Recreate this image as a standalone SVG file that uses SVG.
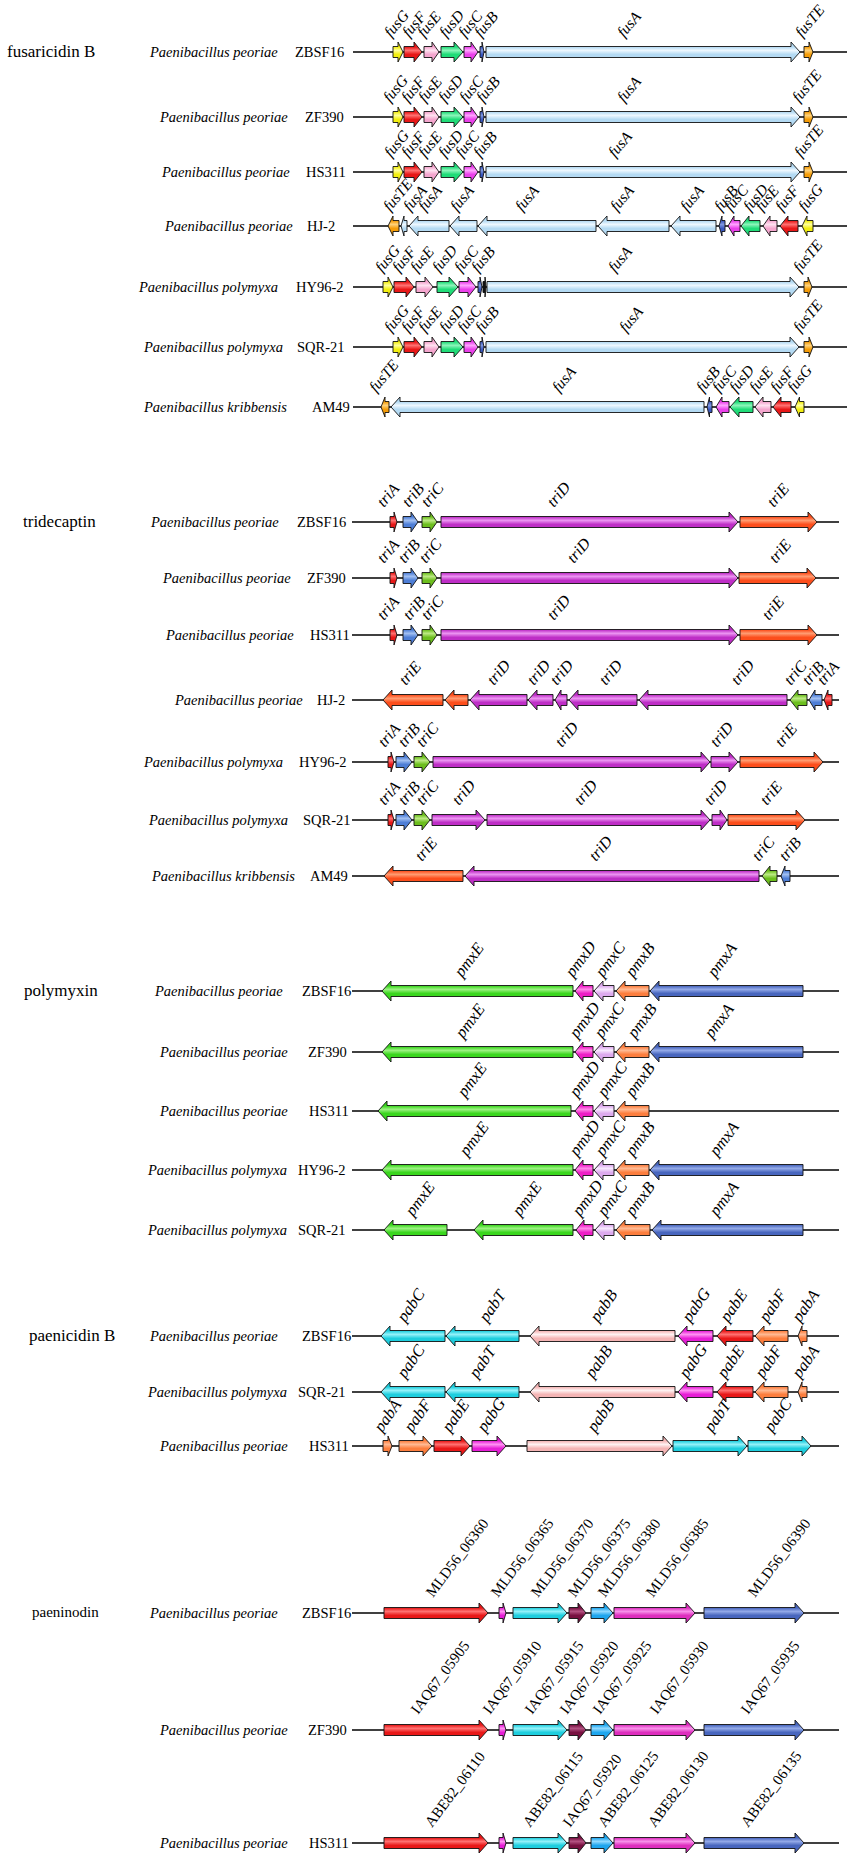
<svg xmlns="http://www.w3.org/2000/svg" width="851" height="1870" viewBox="0 0 851 1870">
<style>
text{font-family:"Liberation Serif","Times New Roman",serif;fill:#000}
.sec{font-size:17px}
.sec2{font-size:15px}
.sp{font-size:14.5px;font-style:italic}
.st{font-size:14.5px}
.lf{font-size:15.5px;font-style:italic}
.lt{font-size:16px;font-style:italic}
.lp{font-size:16.5px;font-style:italic}
.lm{font-size:15px}
.bb line{stroke:#000;stroke-width:1.4}
polygon{stroke:#111;stroke-width:0.9;stroke-linejoin:miter}
</style>
<defs>
<linearGradient id="yel" x2="0" y2="1"><stop offset=".25" stop-color="#F2EE10"/><stop offset=".42" stop-color="#FFFF9A"/><stop offset=".62" stop-color="#F2EE10"/></linearGradient>
<linearGradient id="red" x2="0" y2="1"><stop offset=".25" stop-color="#E81818"/><stop offset=".42" stop-color="#FF7272"/><stop offset=".62" stop-color="#E81818"/></linearGradient>
<linearGradient id="pnk" x2="0" y2="1"><stop offset=".25" stop-color="#F4A6CE"/><stop offset=".42" stop-color="#FFE2F1"/><stop offset=".62" stop-color="#F4A6CE"/></linearGradient>
<linearGradient id="grn" x2="0" y2="1"><stop offset=".25" stop-color="#20DC78"/><stop offset=".42" stop-color="#8CF5BA"/><stop offset=".62" stop-color="#20DC78"/></linearGradient>
<linearGradient id="mag" x2="0" y2="1"><stop offset=".25" stop-color="#EA40EA"/><stop offset=".42" stop-color="#FFA4FF"/><stop offset=".62" stop-color="#EA40EA"/></linearGradient>
<linearGradient id="blu" x2="0" y2="1"><stop offset=".25" stop-color="#3A58C0"/><stop offset=".42" stop-color="#8098E0"/><stop offset=".62" stop-color="#3A58C0"/></linearGradient>
<linearGradient id="lbl" x2="0" y2="1"><stop offset=".25" stop-color="#B4DAF3"/><stop offset=".42" stop-color="#EEF8FF"/><stop offset=".62" stop-color="#B4DAF3"/></linearGradient>
<linearGradient id="orn" x2="0" y2="1"><stop offset=".25" stop-color="#F49C08"/><stop offset=".42" stop-color="#FFD27A"/><stop offset=".62" stop-color="#F49C08"/></linearGradient>
<linearGradient id="tB" x2="0" y2="1"><stop offset=".25" stop-color="#4E7ED6"/><stop offset=".42" stop-color="#A2C0F2"/><stop offset=".62" stop-color="#4E7ED6"/></linearGradient>
<linearGradient id="tC" x2="0" y2="1"><stop offset=".25" stop-color="#6CBE1E"/><stop offset=".42" stop-color="#BCEA84"/><stop offset=".62" stop-color="#6CBE1E"/></linearGradient>
<linearGradient id="tD" x2="0" y2="1"><stop offset=".25" stop-color="#BE2EC6"/><stop offset=".42" stop-color="#EC94F2"/><stop offset=".62" stop-color="#BE2EC6"/></linearGradient>
<linearGradient id="tE" x2="0" y2="1"><stop offset=".25" stop-color="#FC4E1C"/><stop offset=".42" stop-color="#FF9C72"/><stop offset=".62" stop-color="#FC4E1C"/></linearGradient>
<linearGradient id="pE" x2="0" y2="1"><stop offset=".25" stop-color="#3AD61E"/><stop offset=".42" stop-color="#9CF282"/><stop offset=".62" stop-color="#3AD61E"/></linearGradient>
<linearGradient id="pD" x2="0" y2="1"><stop offset=".25" stop-color="#EE1EC6"/><stop offset=".42" stop-color="#FF8AE8"/><stop offset=".62" stop-color="#EE1EC6"/></linearGradient>
<linearGradient id="pC" x2="0" y2="1"><stop offset=".25" stop-color="#DDAAEE"/><stop offset=".42" stop-color="#F8EAFF"/><stop offset=".62" stop-color="#DDAAEE"/></linearGradient>
<linearGradient id="pB" x2="0" y2="1"><stop offset=".25" stop-color="#FC7E3E"/><stop offset=".42" stop-color="#FFBA94"/><stop offset=".62" stop-color="#FC7E3E"/></linearGradient>
<linearGradient id="pA" x2="0" y2="1"><stop offset=".25" stop-color="#4866BE"/><stop offset=".42" stop-color="#94AAE8"/><stop offset=".62" stop-color="#4866BE"/></linearGradient>
<linearGradient id="cy" x2="0" y2="1"><stop offset=".25" stop-color="#1ECEDE"/><stop offset=".42" stop-color="#94F2FA"/><stop offset=".62" stop-color="#1ECEDE"/></linearGradient>
<linearGradient id="pk2" x2="0" y2="1"><stop offset=".25" stop-color="#F4B4B4"/><stop offset=".42" stop-color="#FFF2F2"/><stop offset=".62" stop-color="#F4B4B4"/></linearGradient>
<linearGradient id="mg2" x2="0" y2="1"><stop offset=".25" stop-color="#E61ED6"/><stop offset=".42" stop-color="#FF92F2"/><stop offset=".62" stop-color="#E61ED6"/></linearGradient>
<linearGradient id="ma" x2="0" y2="1"><stop offset=".25" stop-color="#781040"/><stop offset=".42" stop-color="#B45282"/><stop offset=".62" stop-color="#781040"/></linearGradient>
<linearGradient id="sky" x2="0" y2="1"><stop offset=".25" stop-color="#1EA6EE"/><stop offset=".42" stop-color="#92DAFF"/><stop offset=".62" stop-color="#1EA6EE"/></linearGradient>
<linearGradient id="pk3" x2="0" y2="1"><stop offset=".25" stop-color="#DE2EBE"/><stop offset=".42" stop-color="#F892EA"/><stop offset=".62" stop-color="#DE2EBE"/></linearGradient>
</defs>
<rect width="851" height="1870" fill="#fff"/>

<g id="section-titles">
<text class="sec" x="7" y="57">fusaricidin B</text>
<text class="sec" x="23" y="527">tridecaptin</text>
<text class="sec" x="24" y="996">polymyxin</text>
<text class="sec" x="29" y="1341">paenicidin B</text>
<text class="sec2" x="32" y="1617">paeninodin</text>
</g>

<g id="connectors" class="bb">
<line x1="353" y1="52" x2="847" y2="52"/>
<line x1="353" y1="117" x2="847" y2="117"/>
<line x1="353" y1="172" x2="847" y2="172"/>
<line x1="353" y1="226" x2="847" y2="226"/>
<line x1="353" y1="287" x2="847" y2="287"/>
<line x1="353" y1="347" x2="847" y2="347"/>
<line x1="353" y1="407" x2="847" y2="407"/>
<line x1="352" y1="522" x2="839" y2="522"/>
<line x1="352" y1="578" x2="839" y2="578"/>
<line x1="352" y1="635" x2="839" y2="635"/>
<line x1="352" y1="700" x2="839" y2="700"/>
<line x1="352" y1="762" x2="839" y2="762"/>
<line x1="352" y1="820" x2="839" y2="820"/>
<line x1="352" y1="876" x2="839" y2="876"/>
<line x1="352" y1="991" x2="839" y2="991"/>
<line x1="352" y1="1052" x2="839" y2="1052"/>
<line x1="352" y1="1111" x2="839" y2="1111"/>
<line x1="352" y1="1170" x2="839" y2="1170"/>
<line x1="352" y1="1230" x2="839" y2="1230"/>
<line x1="352" y1="1336" x2="839" y2="1336"/>
<line x1="352" y1="1392" x2="839" y2="1392"/>
<line x1="352" y1="1446" x2="839" y2="1446"/>
<line x1="352" y1="1613" x2="839" y2="1613"/>
<line x1="352" y1="1730" x2="839" y2="1730"/>
<line x1="352" y1="1843" x2="839" y2="1843"/>
</g>

<!-- fusaricidin B -->
<g id="fus-ZBSF16" transform="translate(0,52)">
<text class="sp" x="150" y="5">Paenibacillus peoriae</text><text class="st" x="295" y="5">ZBSF16</text>
<polygon fill="url(#yel)" points="393,-5.5 398,-5.5 398,-10 403,0 398,10 398,5.5 393,5.5"/>
<polygon fill="url(#red)" points="404,-5.5 414,-5.5 414,-10 422,0 414,10 414,5.5 404,5.5"/>
<polygon fill="url(#pnk)" points="424,-5.5 432,-5.5 432,-10 439,0 432,10 432,5.5 424,5.5"/>
<polygon fill="url(#grn)" points="441,-5.5 454,-5.5 454,-10 463,0 454,10 454,5.5 441,5.5"/>
<polygon fill="url(#mag)" points="464,-5.5 471,-5.5 471,-10 478,0 471,10 471,5.5 464,5.5"/>
<polygon fill="url(#blu)" points="480,-5.5 482,-5.5 482,-10 484,0 482,10 482,5.5 480,5.5"/>
<polygon fill="url(#lbl)" points="486,-5.5 791,-5.5 791,-10 800,0 791,10 791,5.5 486,5.5"/>
<polygon fill="url(#orn)" points="804,-5.5 809,-5.5 809,-10 813,0 809,10 809,5.5 804,5.5"/>
<text class="lf" transform="translate(391,-14) rotate(-50)">fusG</text>
<text class="lf" transform="translate(409,-14) rotate(-50)">fusF</text>
<text class="lf" transform="translate(424,-14) rotate(-50)">fusE</text>
<text class="lf" transform="translate(446,-14) rotate(-50)">fusD</text>
<text class="lf" transform="translate(465,-14) rotate(-50)">fusC</text>
<text class="lf" transform="translate(481,-14) rotate(-50)">fusB</text>
<text class="lf" transform="translate(624,-14) rotate(-50)">fusA</text>
<text class="lf" transform="translate(802,-14) rotate(-50)">fusTE</text>
</g>

<g id="fus-ZF390" transform="translate(0,117)">
<text class="sp" x="160" y="5">Paenibacillus peoriae</text><text class="st" x="305" y="5">ZF390</text>
<polygon fill="url(#yel)" points="393,-5.5 398,-5.5 398,-10 403,0 398,10 398,5.5 393,5.5"/>
<polygon fill="url(#red)" points="404,-5.5 414,-5.5 414,-10 422,0 414,10 414,5.5 404,5.5"/>
<polygon fill="url(#pnk)" points="424,-5.5 432,-5.5 432,-10 439,0 432,10 432,5.5 424,5.5"/>
<polygon fill="url(#grn)" points="441,-5.5 454,-5.5 454,-10 463,0 454,10 454,5.5 441,5.5"/>
<polygon fill="url(#mag)" points="464,-5.5 471,-5.5 471,-10 478,0 471,10 471,5.5 464,5.5"/>
<polygon fill="url(#blu)" points="480,-5.5 482,-5.5 482,-10 484,0 482,10 482,5.5 480,5.5"/>
<polygon fill="url(#lbl)" points="486,-5.5 791,-5.5 791,-10 800,0 791,10 791,5.5 486,5.5"/>
<polygon fill="url(#orn)" points="804,-5.5 809,-5.5 809,-10 813,0 809,10 809,5.5 804,5.5"/>
<text class="lf" transform="translate(390,-14) rotate(-50)">fusG</text>
<text class="lf" transform="translate(408,-14) rotate(-50)">fusF</text>
<text class="lf" transform="translate(425,-14) rotate(-50)">fusE</text>
<text class="lf" transform="translate(445,-14) rotate(-50)">fusD</text>
<text class="lf" transform="translate(466,-14) rotate(-50)">fusC</text>
<text class="lf" transform="translate(483,-14) rotate(-50)">fusB</text>
<text class="lf" transform="translate(624,-14) rotate(-50)">fusA</text>
<text class="lf" transform="translate(799,-14) rotate(-50)">fusTE</text>
</g>

<g id="fus-HS311" transform="translate(0,172)">
<text class="sp" x="162" y="5">Paenibacillus peoriae</text><text class="st" x="306" y="5">HS311</text>
<polygon fill="url(#yel)" points="393,-5.5 398,-5.5 398,-10 403,0 398,10 398,5.5 393,5.5"/>
<polygon fill="url(#red)" points="404,-5.5 414,-5.5 414,-10 422,0 414,10 414,5.5 404,5.5"/>
<polygon fill="url(#pnk)" points="424,-5.5 432,-5.5 432,-10 439,0 432,10 432,5.5 424,5.5"/>
<polygon fill="url(#grn)" points="441,-5.5 454,-5.5 454,-10 463,0 454,10 454,5.5 441,5.5"/>
<polygon fill="url(#mag)" points="464,-5.5 471,-5.5 471,-10 478,0 471,10 471,5.5 464,5.5"/>
<polygon fill="url(#blu)" points="480,-5.5 482,-5.5 482,-10 484,0 482,10 482,5.5 480,5.5"/>
<polygon fill="url(#lbl)" points="486,-5.5 791,-5.5 791,-10 800,0 791,10 791,5.5 486,5.5"/>
<polygon fill="url(#orn)" points="804,-5.5 809,-5.5 809,-10 813,0 809,10 809,5.5 804,5.5"/>
<text class="lf" transform="translate(391,-14) rotate(-50)">fusG</text>
<text class="lf" transform="translate(408,-14) rotate(-50)">fusF</text>
<text class="lf" transform="translate(425,-14) rotate(-50)">fusE</text>
<text class="lf" transform="translate(445,-14) rotate(-50)">fusD</text>
<text class="lf" transform="translate(462,-14) rotate(-50)">fusC</text>
<text class="lf" transform="translate(480,-14) rotate(-50)">fusB</text>
<text class="lf" transform="translate(615,-14) rotate(-50)">fusA</text>
<text class="lf" transform="translate(801,-14) rotate(-50)">fusTE</text>
</g>

<g id="fus-HJ-2" transform="translate(0,226)">
<text class="sp" x="165" y="5">Paenibacillus peoriae</text><text class="st" x="307" y="5">HJ-2</text>
<polygon fill="url(#orn)" points="399,-5.5 393,-5.5 393,-10 388,0 393,10 393,5.5 399,5.5"/>
<polygon fill="url(#lbl)" points="407,-5.5 404,-5.5 404,-10 401,0 404,10 404,5.5 407,5.5"/>
<polygon fill="url(#lbl)" points="449,-5.5 418,-5.5 418,-10 409,0 418,10 418,5.5 449,5.5"/>
<polygon fill="url(#lbl)" points="477,-5.5 459,-5.5 459,-10 450,0 459,10 459,5.5 477,5.5"/>
<polygon fill="url(#lbl)" points="596,-5.5 487,-5.5 487,-10 478,0 487,10 487,5.5 596,5.5"/>
<polygon fill="url(#lbl)" points="669,-5.5 607,-5.5 607,-10 598,0 607,10 607,5.5 669,5.5"/>
<polygon fill="url(#lbl)" points="716,-5.5 680,-5.5 680,-10 671,0 680,10 680,5.5 716,5.5"/>
<polygon fill="url(#blu)" points="725,-5.5 722,-5.5 722,-10 719,0 722,10 722,5.5 725,5.5"/>
<polygon fill="url(#mag)" points="740,-5.5 734,-5.5 734,-10 728,0 734,10 734,5.5 740,5.5"/>
<polygon fill="url(#grn)" points="760,-5.5 749,-5.5 749,-10 741,0 749,10 749,5.5 760,5.5"/>
<polygon fill="url(#pnk)" points="777,-5.5 770,-5.5 770,-10 763,0 770,10 770,5.5 777,5.5"/>
<polygon fill="url(#red)" points="798,-5.5 788,-5.5 788,-10 780,0 788,10 788,5.5 798,5.5"/>
<polygon fill="url(#yel)" points="813,-5.5 807,-5.5 807,-10 802,0 807,10 807,5.5 813,5.5"/>
<text class="lf" transform="translate(390,-14) rotate(-50)">fusTE</text>
<text class="lf" transform="translate(410,-14) rotate(-50)">fusA</text>
<text class="lf" transform="translate(425,-14) rotate(-50)">fusA</text>
<text class="lf" transform="translate(457,-14) rotate(-50)">fusA</text>
<text class="lf" transform="translate(522,-14) rotate(-50)">fusA</text>
<text class="lf" transform="translate(617,-14) rotate(-50)">fusA</text>
<text class="lf" transform="translate(687,-14) rotate(-50)">fusA</text>
<text class="lf" transform="translate(721,-14) rotate(-50)">fusB</text>
<text class="lf" transform="translate(731,-14) rotate(-50)">fusC</text>
<text class="lf" transform="translate(750,-14) rotate(-50)">fusD</text>
<text class="lf" transform="translate(762,-14) rotate(-50)">fusE</text>
<text class="lf" transform="translate(782,-14) rotate(-50)">fusF</text>
<text class="lf" transform="translate(805,-14) rotate(-50)">fusG</text>
</g>

<g id="fus-HY96-2" transform="translate(0,287)">
<text class="sp" x="139" y="5">Paenibacillus polymyxa</text><text class="st" x="296" y="5">HY96-2</text>
<polygon fill="url(#yel)" points="383,-5.5 388,-5.5 388,-10 393,0 388,10 388,5.5 383,5.5"/>
<polygon fill="url(#red)" points="394,-5.5 406,-5.5 406,-10 414,0 406,10 406,5.5 394,5.5"/>
<polygon fill="url(#pnk)" points="416,-5.5 425,-5.5 425,-10 433,0 425,10 425,5.5 416,5.5"/>
<polygon fill="url(#grn)" points="437,-5.5 449,-5.5 449,-10 458,0 449,10 449,5.5 437,5.5"/>
<polygon fill="url(#mag)" points="459,-5.5 468,-5.5 468,-10 476,0 468,10 468,5.5 459,5.5"/>
<polygon fill="url(#blu)" points="478,-5.5 480,-5.5 480,-10 482,0 480,10 480,5.5 478,5.5"/>
<polygon fill="#111" points="483,-5.5 485,-5.5 485,-10 486,0 485,10 485,5.5 483,5.5"/>
<polygon fill="url(#lbl)" points="487,-5.5 790,-5.5 790,-10 799,0 790,10 790,5.5 487,5.5"/>
<polygon fill="url(#orn)" points="804,-5.5 808,-5.5 808,-10 812,0 808,10 808,5.5 804,5.5"/>
<text class="lf" transform="translate(382,-14) rotate(-50)">fusG</text>
<text class="lf" transform="translate(399,-14) rotate(-50)">fusF</text>
<text class="lf" transform="translate(417,-14) rotate(-50)">fusE</text>
<text class="lf" transform="translate(439,-14) rotate(-50)">fusD</text>
<text class="lf" transform="translate(461,-14) rotate(-50)">fusC</text>
<text class="lf" transform="translate(478,-14) rotate(-50)">fusB</text>
<text class="lf" transform="translate(615,-14) rotate(-50)">fusA</text>
<text class="lf" transform="translate(800,-14) rotate(-50)">fusTE</text>
</g>

<g id="fus-SQR-21" transform="translate(0,347)">
<text class="sp" x="144" y="5">Paenibacillus polymyxa</text><text class="st" x="297" y="5">SQR-21</text>
<polygon fill="url(#yel)" points="393,-5.5 398,-5.5 398,-10 403,0 398,10 398,5.5 393,5.5"/>
<polygon fill="url(#red)" points="404,-5.5 414,-5.5 414,-10 422,0 414,10 414,5.5 404,5.5"/>
<polygon fill="url(#pnk)" points="424,-5.5 432,-5.5 432,-10 439,0 432,10 432,5.5 424,5.5"/>
<polygon fill="url(#grn)" points="441,-5.5 454,-5.5 454,-10 463,0 454,10 454,5.5 441,5.5"/>
<polygon fill="url(#mag)" points="464,-5.5 471,-5.5 471,-10 478,0 471,10 471,5.5 464,5.5"/>
<polygon fill="url(#blu)" points="480,-5.5 482,-5.5 482,-10 484,0 482,10 482,5.5 480,5.5"/>
<polygon fill="url(#lbl)" points="486,-5.5 790,-5.5 790,-10 799,0 790,10 790,5.5 486,5.5"/>
<polygon fill="url(#orn)" points="804,-5.5 809,-5.5 809,-10 813,0 809,10 809,5.5 804,5.5"/>
<text class="lf" transform="translate(391,-14) rotate(-50)">fusG</text>
<text class="lf" transform="translate(408,-14) rotate(-50)">fusF</text>
<text class="lf" transform="translate(425,-14) rotate(-50)">fusE</text>
<text class="lf" transform="translate(446,-14) rotate(-50)">fusD</text>
<text class="lf" transform="translate(464,-14) rotate(-50)">fusC</text>
<text class="lf" transform="translate(482,-14) rotate(-50)">fusB</text>
<text class="lf" transform="translate(626,-14) rotate(-50)">fusA</text>
<text class="lf" transform="translate(800,-14) rotate(-50)">fusTE</text>
</g>

<g id="fus-AM49" transform="translate(0,407)">
<text class="sp" x="144" y="5">Paenibacillus kribbensis</text><text class="st" x="312" y="5">AM49</text>
<polygon fill="url(#orn)" points="389,-5.5 385,-5.5 385,-10 381,0 385,10 385,5.5 389,5.5"/>
<polygon fill="url(#lbl)" points="704,-5.5 400,-5.5 400,-10 391,0 400,10 400,5.5 704,5.5"/>
<polygon fill="url(#blu)" points="712,-5.5 709.5,-5.5 709.5,-10 707,0 709.5,10 709.5,5.5 712,5.5"/>
<polygon fill="url(#mag)" points="729,-5.5 722,-5.5 722,-10 716,0 722,10 722,5.5 729,5.5"/>
<polygon fill="url(#grn)" points="753,-5.5 739,-5.5 739,-10 730,0 739,10 739,5.5 753,5.5"/>
<polygon fill="url(#pnk)" points="771,-5.5 763,-5.5 763,-10 755,0 763,10 763,5.5 771,5.5"/>
<polygon fill="url(#red)" points="791,-5.5 781,-5.5 781,-10 773,0 781,10 781,5.5 791,5.5"/>
<polygon fill="url(#yel)" points="804,-5.5 799.5,-5.5 799.5,-10 795,0 799.5,10 799.5,5.5 804,5.5"/>
<text class="lf" transform="translate(376,-14) rotate(-50)">fusTE</text>
<text class="lf" transform="translate(559,-14) rotate(-50)">fusA</text>
<text class="lf" transform="translate(703,-14) rotate(-50)">fusB</text>
<text class="lf" transform="translate(719,-14) rotate(-50)">fusC</text>
<text class="lf" transform="translate(736,-14) rotate(-50)">fusD</text>
<text class="lf" transform="translate(756,-14) rotate(-50)">fusE</text>
<text class="lf" transform="translate(777,-14) rotate(-50)">fusF</text>
<text class="lf" transform="translate(794,-14) rotate(-50)">fusG</text>
</g>

<!-- tridecaptin -->
<g id="tri-ZBSF16" transform="translate(0,522)">
<text class="sp" x="151" y="5">Paenibacillus peoriae</text><text class="st" x="297" y="5">ZBSF16</text>
<polygon fill="url(#red)" points="390,-5.5 394,-5.5 394,-10 397,0 394,10 394,5.5 390,5.5"/>
<polygon fill="url(#tB)" points="403,-5.5 411,-5.5 411,-10 418,0 411,10 411,5.5 403,5.5"/>
<polygon fill="url(#tC)" points="422,-5.5 430,-5.5 430,-10 437,0 430,10 430,5.5 422,5.5"/>
<polygon fill="url(#tD)" points="441,-5.5 729,-5.5 729,-10 738,0 729,10 729,5.5 441,5.5"/>
<polygon fill="url(#tE)" points="740,-5.5 808,-5.5 808,-10 817,0 808,10 808,5.5 740,5.5"/>
<text class="lt" transform="translate(384,-14) rotate(-50)">triA</text>
<text class="lt" transform="translate(409,-14) rotate(-50)">triB</text>
<text class="lt" transform="translate(428,-14) rotate(-50)">triC</text>
<text class="lt" transform="translate(554,-14) rotate(-50)">triD</text>
<text class="lt" transform="translate(774,-14) rotate(-50)">triE</text>
</g>

<g id="tri-ZF390" transform="translate(0,578)">
<text class="sp" x="163" y="5">Paenibacillus peoriae</text><text class="st" x="307" y="5">ZF390</text>
<polygon fill="url(#red)" points="390,-5.5 394,-5.5 394,-10 397,0 394,10 394,5.5 390,5.5"/>
<polygon fill="url(#tB)" points="403,-5.5 411,-5.5 411,-10 418,0 411,10 411,5.5 403,5.5"/>
<polygon fill="url(#tC)" points="422,-5.5 430,-5.5 430,-10 437,0 430,10 430,5.5 422,5.5"/>
<polygon fill="url(#tD)" points="441,-5.5 729,-5.5 729,-10 738,0 729,10 729,5.5 441,5.5"/>
<polygon fill="url(#tE)" points="739,-5.5 807,-5.5 807,-10 816,0 807,10 807,5.5 739,5.5"/>
<text class="lt" transform="translate(384,-14) rotate(-50)">triA</text>
<text class="lt" transform="translate(405,-14) rotate(-50)">triB</text>
<text class="lt" transform="translate(426,-14) rotate(-50)">triC</text>
<text class="lt" transform="translate(574,-14) rotate(-50)">triD</text>
<text class="lt" transform="translate(776,-14) rotate(-50)">triE</text>
</g>

<g id="tri-HS311" transform="translate(0,635)">
<text class="sp" x="166" y="5">Paenibacillus peoriae</text><text class="st" x="310" y="5">HS311</text>
<polygon fill="url(#red)" points="390,-5.5 394,-5.5 394,-10 397,0 394,10 394,5.5 390,5.5"/>
<polygon fill="url(#tB)" points="403,-5.5 411,-5.5 411,-10 418,0 411,10 411,5.5 403,5.5"/>
<polygon fill="url(#tC)" points="422,-5.5 430,-5.5 430,-10 437,0 430,10 430,5.5 422,5.5"/>
<polygon fill="url(#tD)" points="441,-5.5 729,-5.5 729,-10 738,0 729,10 729,5.5 441,5.5"/>
<polygon fill="url(#tE)" points="740,-5.5 808,-5.5 808,-10 817,0 808,10 808,5.5 740,5.5"/>
<text class="lt" transform="translate(384,-14) rotate(-50)">triA</text>
<text class="lt" transform="translate(410,-14) rotate(-50)">triB</text>
<text class="lt" transform="translate(428,-14) rotate(-50)">triC</text>
<text class="lt" transform="translate(554,-14) rotate(-50)">triD</text>
<text class="lt" transform="translate(769,-14) rotate(-50)">triE</text>
</g>

<g id="tri-HJ-2" transform="translate(0,700)">
<text class="sp" x="175" y="5">Paenibacillus peoriae</text><text class="st" x="317" y="5">HJ-2</text>
<polygon fill="url(#tE)" points="443,-5.5 392,-5.5 392,-10 383,0 392,10 392,5.5 443,5.5"/>
<polygon fill="url(#tE)" points="468,-5.5 454,-5.5 454,-10 445,0 454,10 454,5.5 468,5.5"/>
<polygon fill="url(#tD)" points="527,-5.5 479,-5.5 479,-10 470,0 479,10 479,5.5 527,5.5"/>
<polygon fill="url(#tD)" points="553,-5.5 537,-5.5 537,-10 528,0 537,10 537,5.5 553,5.5"/>
<polygon fill="url(#tD)" points="567,-5.5 561,-5.5 561,-10 555,0 561,10 561,5.5 567,5.5"/>
<polygon fill="url(#tD)" points="637,-5.5 578,-5.5 578,-10 569,0 578,10 578,5.5 637,5.5"/>
<polygon fill="url(#tD)" points="787,-5.5 648,-5.5 648,-10 639,0 648,10 648,5.5 787,5.5"/>
<polygon fill="url(#tC)" points="807,-5.5 798,-5.5 798,-10 790,0 798,10 798,5.5 807,5.5"/>
<polygon fill="url(#tB)" points="822,-5.5 815,-5.5 815,-10 809,0 815,10 815,5.5 822,5.5"/>
<polygon fill="url(#red)" points="832,-5.5 828,-5.5 828,-10 824,0 828,10 828,5.5 832,5.5"/>
<text class="lt" transform="translate(406,-14) rotate(-50)">triE</text>
<text class="lt" transform="translate(494,-14) rotate(-50)">triD</text>
<text class="lt" transform="translate(534,-14) rotate(-50)">triD</text>
<text class="lt" transform="translate(557,-14) rotate(-50)">triD</text>
<text class="lt" transform="translate(606,-14) rotate(-50)">triD</text>
<text class="lt" transform="translate(738,-14) rotate(-50)">triD</text>
<text class="lt" transform="translate(791,-14) rotate(-50)">triC</text>
<text class="lt" transform="translate(809,-14) rotate(-50)">triB</text>
<text class="lt" transform="translate(824,-14) rotate(-50)">triA</text>
</g>

<g id="tri-HY96-2" transform="translate(0,762)">
<text class="sp" x="144" y="5">Paenibacillus polymyxa</text><text class="st" x="299" y="5">HY96-2</text>
<polygon fill="url(#red)" points="388,-5.5 391,-5.5 391,-10 394,0 391,10 391,5.5 388,5.5"/>
<polygon fill="url(#tB)" points="396,-5.5 404,-5.5 404,-10 412,0 404,10 404,5.5 396,5.5"/>
<polygon fill="url(#tC)" points="414,-5.5 422,-5.5 422,-10 430,0 422,10 422,5.5 414,5.5"/>
<polygon fill="url(#tD)" points="433,-5.5 701,-5.5 701,-10 710,0 701,10 701,5.5 433,5.5"/>
<polygon fill="url(#tD)" points="711,-5.5 729,-5.5 729,-10 738,0 729,10 729,5.5 711,5.5"/>
<polygon fill="url(#tE)" points="740,-5.5 814,-5.5 814,-10 823,0 814,10 814,5.5 740,5.5"/>
<text class="lt" transform="translate(385,-14) rotate(-50)">triA</text>
<text class="lt" transform="translate(405,-14) rotate(-50)">triB</text>
<text class="lt" transform="translate(423,-14) rotate(-50)">triC</text>
<text class="lt" transform="translate(562,-14) rotate(-50)">triD</text>
<text class="lt" transform="translate(717,-14) rotate(-50)">triD</text>
<text class="lt" transform="translate(782,-14) rotate(-50)">triE</text>
</g>

<g id="tri-SQR-21" transform="translate(0,820)">
<text class="sp" x="149" y="5">Paenibacillus polymyxa</text><text class="st" x="303" y="5">SQR-21</text>
<polygon fill="url(#red)" points="388,-5.5 391,-5.5 391,-10 394,0 391,10 391,5.5 388,5.5"/>
<polygon fill="url(#tB)" points="396,-5.5 404,-5.5 404,-10 412,0 404,10 404,5.5 396,5.5"/>
<polygon fill="url(#tC)" points="414,-5.5 422,-5.5 422,-10 430,0 422,10 422,5.5 414,5.5"/>
<polygon fill="url(#tD)" points="432,-5.5 476,-5.5 476,-10 485,0 476,10 476,5.5 432,5.5"/>
<polygon fill="url(#tD)" points="487,-5.5 701,-5.5 701,-10 710,0 701,10 701,5.5 487,5.5"/>
<polygon fill="url(#tD)" points="712,-5.5 720,-5.5 720,-10 727,0 720,10 720,5.5 712,5.5"/>
<polygon fill="url(#tE)" points="728,-5.5 796,-5.5 796,-10 805,0 796,10 796,5.5 728,5.5"/>
<text class="lt" transform="translate(385,-14) rotate(-50)">triA</text>
<text class="lt" transform="translate(405,-14) rotate(-50)">triB</text>
<text class="lt" transform="translate(423,-14) rotate(-50)">triC</text>
<text class="lt" transform="translate(459,-14) rotate(-50)">triD</text>
<text class="lt" transform="translate(581,-14) rotate(-50)">triD</text>
<text class="lt" transform="translate(711,-14) rotate(-50)">triD</text>
<text class="lt" transform="translate(767,-14) rotate(-50)">triE</text>
</g>

<g id="tri-AM49" transform="translate(0,876)">
<text class="sp" x="152" y="5">Paenibacillus kribbensis</text><text class="st" x="310" y="5">AM49</text>
<polygon fill="url(#tE)" points="463,-5.5 393,-5.5 393,-10 384,0 393,10 393,5.5 463,5.5"/>
<polygon fill="url(#tD)" points="759,-5.5 474,-5.5 474,-10 465,0 474,10 474,5.5 759,5.5"/>
<polygon fill="url(#tC)" points="777,-5.5 770,-5.5 770,-10 762,0 770,10 770,5.5 777,5.5"/>
<polygon fill="url(#tB)" points="790,-5.5 785,-5.5 785,-10 781,0 785,10 785,5.5 790,5.5"/>
<text class="lt" transform="translate(422,-14) rotate(-50)">triE</text>
<text class="lt" transform="translate(596,-14) rotate(-50)">triD</text>
<text class="lt" transform="translate(759,-14) rotate(-50)">triC</text>
<text class="lt" transform="translate(786,-14) rotate(-50)">triB</text>
</g>

<!-- polymyxin -->
<g id="pmx-ZBSF16" transform="translate(0,991)">
<text class="sp" x="155" y="5">Paenibacillus peoriae</text><text class="st" x="302" y="5">ZBSF16</text>
<polygon fill="url(#pE)" points="573,-5.5 391,-5.5 391,-10 382,0 391,10 391,5.5 573,5.5"/>
<polygon fill="url(#pD)" points="593,-5.5 583,-5.5 583,-10 575,0 583,10 583,5.5 593,5.5"/>
<polygon fill="url(#pC)" points="614,-5.5 603,-5.5 603,-10 594,0 603,10 603,5.5 614,5.5"/>
<polygon fill="url(#pB)" points="649,-5.5 625,-5.5 625,-10 616,0 625,10 625,5.5 649,5.5"/>
<polygon fill="url(#pA)" points="803,-5.5 659,-5.5 659,-10 650,0 659,10 659,5.5 803,5.5"/>
<text class="lp" transform="translate(462,-13) rotate(-53)">pmxE</text>
<text class="lp" transform="translate(573,-13) rotate(-53)">pmxD</text>
<text class="lp" transform="translate(603,-13) rotate(-53)">pmxC</text>
<text class="lp" transform="translate(633,-13) rotate(-53)">pmxB</text>
<text class="lp" transform="translate(715,-13) rotate(-53)">pmxA</text>
</g>

<g id="pmx-ZF390" transform="translate(0,1052)">
<text class="sp" x="160" y="5">Paenibacillus peoriae</text><text class="st" x="308" y="5">ZF390</text>
<polygon fill="url(#pE)" points="573,-5.5 391,-5.5 391,-10 382,0 391,10 391,5.5 573,5.5"/>
<polygon fill="url(#pD)" points="593,-5.5 583,-5.5 583,-10 575,0 583,10 583,5.5 593,5.5"/>
<polygon fill="url(#pC)" points="614,-5.5 603,-5.5 603,-10 594,0 603,10 603,5.5 614,5.5"/>
<polygon fill="url(#pB)" points="649,-5.5 625,-5.5 625,-10 616,0 625,10 625,5.5 649,5.5"/>
<polygon fill="url(#pA)" points="803,-5.5 659,-5.5 659,-10 650,0 659,10 659,5.5 803,5.5"/>
<text class="lp" transform="translate(463,-13) rotate(-53)">pmxE</text>
<text class="lp" transform="translate(577,-13) rotate(-53)">pmxD</text>
<text class="lp" transform="translate(602,-13) rotate(-53)">pmxC</text>
<text class="lp" transform="translate(635,-13) rotate(-53)">pmxB</text>
<text class="lp" transform="translate(712,-13) rotate(-53)">pmxA</text>
</g>

<g id="pmx-HS311" transform="translate(0,1111)">
<text class="sp" x="160" y="5">Paenibacillus peoriae</text><text class="st" x="309" y="5">HS311</text>
<polygon fill="url(#pE)" points="571,-5.5 387,-5.5 387,-10 378,0 387,10 387,5.5 571,5.5"/>
<polygon fill="url(#pD)" points="593,-5.5 583,-5.5 583,-10 575,0 583,10 583,5.5 593,5.5"/>
<polygon fill="url(#pC)" points="614,-5.5 603,-5.5 603,-10 594,0 603,10 603,5.5 614,5.5"/>
<polygon fill="url(#pB)" points="649,-5.5 625,-5.5 625,-10 616,0 625,10 625,5.5 649,5.5"/>
<text class="lp" transform="translate(465,-13) rotate(-53)">pmxE</text>
<text class="lp" transform="translate(577,-13) rotate(-53)">pmxD</text>
<text class="lp" transform="translate(605,-13) rotate(-53)">pmxC</text>
<text class="lp" transform="translate(633,-13) rotate(-53)">pmxB</text>
</g>

<g id="pmx-HY96-2" transform="translate(0,1170)">
<text class="sp" x="148" y="5">Paenibacillus polymyxa</text><text class="st" x="298" y="5">HY96-2</text>
<polygon fill="url(#pE)" points="573,-5.5 391,-5.5 391,-10 382,0 391,10 391,5.5 573,5.5"/>
<polygon fill="url(#pD)" points="593,-5.5 583,-5.5 583,-10 575,0 583,10 583,5.5 593,5.5"/>
<polygon fill="url(#pC)" points="614,-5.5 603,-5.5 603,-10 594,0 603,10 603,5.5 614,5.5"/>
<polygon fill="url(#pB)" points="649,-5.5 625,-5.5 625,-10 616,0 625,10 625,5.5 649,5.5"/>
<polygon fill="url(#pA)" points="803,-5.5 659,-5.5 659,-10 650,0 659,10 659,5.5 803,5.5"/>
<text class="lp" transform="translate(467,-13) rotate(-53)">pmxE</text>
<text class="lp" transform="translate(577,-13) rotate(-53)">pmxD</text>
<text class="lp" transform="translate(603,-13) rotate(-53)">pmxC</text>
<text class="lp" transform="translate(633,-13) rotate(-53)">pmxB</text>
<text class="lp" transform="translate(717,-13) rotate(-53)">pmxA</text>
</g>

<g id="pmx-SQR-21" transform="translate(0,1230)">
<text class="sp" x="148" y="5">Paenibacillus polymyxa</text><text class="st" x="298" y="5">SQR-21</text>
<polygon fill="url(#pE)" points="447,-5.5 393,-5.5 393,-10 384,0 393,10 393,5.5 447,5.5"/>
<polygon fill="url(#pE)" points="573,-5.5 483,-5.5 483,-10 474,0 483,10 483,5.5 573,5.5"/>
<polygon fill="url(#pD)" points="593,-5.5 584,-5.5 584,-10 576,0 584,10 584,5.5 593,5.5"/>
<polygon fill="url(#pC)" points="614,-5.5 604,-5.5 604,-10 595,0 604,10 604,5.5 614,5.5"/>
<polygon fill="url(#pB)" points="650,-5.5 625,-5.5 625,-10 616,0 625,10 625,5.5 650,5.5"/>
<polygon fill="url(#pA)" points="803,-5.5 661,-5.5 661,-10 652,0 661,10 661,5.5 803,5.5"/>
<text class="lp" transform="translate(413,-13) rotate(-53)">pmxE</text>
<text class="lp" transform="translate(520,-13) rotate(-53)">pmxE</text>
<text class="lp" transform="translate(580,-13) rotate(-53)">pmxD</text>
<text class="lp" transform="translate(605,-13) rotate(-53)">pmxC</text>
<text class="lp" transform="translate(633,-13) rotate(-53)">pmxB</text>
<text class="lp" transform="translate(717,-13) rotate(-53)">pmxA</text>
</g>

<!-- paenicidin B -->
<g id="pab-ZBSF16" transform="translate(0,1336)">
<text class="sp" x="150" y="5">Paenibacillus peoriae</text><text class="st" x="302" y="5">ZBSF16</text>
<polygon fill="url(#cy)" points="445,-5.5 390,-5.5 390,-10 381,0 390,10 390,5.5 445,5.5"/>
<polygon fill="url(#cy)" points="519,-5.5 455,-5.5 455,-10 446,0 455,10 455,5.5 519,5.5"/>
<polygon fill="url(#pk2)" points="675,-5.5 539,-5.5 539,-10 530,0 539,10 539,5.5 675,5.5"/>
<polygon fill="url(#mg2)" points="713,-5.5 687,-5.5 687,-10 678,0 687,10 687,5.5 713,5.5"/>
<polygon fill="url(#red)" points="753,-5.5 726,-5.5 726,-10 717,0 726,10 726,5.5 753,5.5"/>
<polygon fill="url(#pB)" points="788,-5.5 764,-5.5 764,-10 755,0 764,10 764,5.5 788,5.5"/>
<polygon fill="url(#pB)" points="807,-5.5 802,-5.5 802,-10 798,0 802,10 802,5.5 807,5.5"/>
<text class="lp" transform="translate(405,-13) rotate(-55)">pabC</text>
<text class="lp" transform="translate(487,-13) rotate(-55)">pabT</text>
<text class="lp" transform="translate(598,-13) rotate(-55)">pabB</text>
<text class="lp" transform="translate(690,-13) rotate(-55)">pabG</text>
<text class="lp" transform="translate(728,-13) rotate(-55)">pabE</text>
<text class="lp" transform="translate(767,-13) rotate(-55)">pabF</text>
<text class="lp" transform="translate(800,-13) rotate(-55)">pabA</text>
</g>

<g id="pab-SQR-21" transform="translate(0,1392)">
<text class="sp" x="148" y="5">Paenibacillus polymyxa</text><text class="st" x="298" y="5">SQR-21</text>
<polygon fill="url(#cy)" points="445,-5.5 390,-5.5 390,-10 381,0 390,10 390,5.5 445,5.5"/>
<polygon fill="url(#cy)" points="519,-5.5 455,-5.5 455,-10 446,0 455,10 455,5.5 519,5.5"/>
<polygon fill="url(#pk2)" points="675,-5.5 539,-5.5 539,-10 530,0 539,10 539,5.5 675,5.5"/>
<polygon fill="url(#mg2)" points="713,-5.5 687,-5.5 687,-10 678,0 687,10 687,5.5 713,5.5"/>
<polygon fill="url(#red)" points="753,-5.5 726,-5.5 726,-10 717,0 726,10 726,5.5 753,5.5"/>
<polygon fill="url(#pB)" points="788,-5.5 764,-5.5 764,-10 755,0 764,10 764,5.5 788,5.5"/>
<polygon fill="url(#pB)" points="807,-5.5 802,-5.5 802,-10 798,0 802,10 802,5.5 807,5.5"/>
<text class="lp" transform="translate(405,-13) rotate(-55)">pabC</text>
<text class="lp" transform="translate(477,-13) rotate(-55)">pabT</text>
<text class="lp" transform="translate(593,-13) rotate(-55)">pabB</text>
<text class="lp" transform="translate(687,-13) rotate(-55)">pabG</text>
<text class="lp" transform="translate(725,-13) rotate(-55)">pabE</text>
<text class="lp" transform="translate(763,-13) rotate(-55)">pabF</text>
<text class="lp" transform="translate(800,-13) rotate(-55)">pabA</text>
</g>

<g id="pab-HS311" transform="translate(0,1446)">
<text class="sp" x="160" y="5">Paenibacillus peoriae</text><text class="st" x="309" y="5">HS311</text>
<polygon fill="url(#pB)" points="383,-5.5 388,-5.5 388,-10 392,0 388,10 388,5.5 383,5.5"/>
<polygon fill="url(#pB)" points="399,-5.5 423,-5.5 423,-10 432,0 423,10 423,5.5 399,5.5"/>
<polygon fill="url(#red)" points="434,-5.5 461,-5.5 461,-10 470,0 461,10 461,5.5 434,5.5"/>
<polygon fill="url(#mg2)" points="472,-5.5 497,-5.5 497,-10 506,0 497,10 497,5.5 472,5.5"/>
<polygon fill="url(#pk2)" points="527,-5.5 663,-5.5 663,-10 672,0 663,10 663,5.5 527,5.5"/>
<polygon fill="url(#cy)" points="673,-5.5 738,-5.5 738,-10 747,0 738,10 738,5.5 673,5.5"/>
<polygon fill="url(#cy)" points="748,-5.5 802,-5.5 802,-10 811,0 802,10 802,5.5 748,5.5"/>
<text class="lp" transform="translate(382,-13) rotate(-55)">pabA</text>
<text class="lp" transform="translate(412,-13) rotate(-55)">pabF</text>
<text class="lp" transform="translate(450,-13) rotate(-55)">pabE</text>
<text class="lp" transform="translate(485,-13) rotate(-55)">pabG</text>
<text class="lp" transform="translate(595,-13) rotate(-55)">pabB</text>
<text class="lp" transform="translate(712,-13) rotate(-55)">pabT</text>
<text class="lp" transform="translate(772,-13) rotate(-55)">pabC</text>
</g>

<!-- paeninodin -->
<g id="pnd-ZBSF16" transform="translate(0,1613)">
<text class="sp" x="150" y="5">Paenibacillus peoriae</text><text class="st" x="302" y="5">ZBSF16</text>
<polygon fill="url(#red)" points="384,-5.5 479,-5.5 479,-10 488,0 479,10 479,5.5 384,5.5"/>
<polygon fill="url(#mg2)" points="499,-5.5 503,-5.5 503,-10 506,0 503,10 503,5.5 499,5.5"/>
<polygon fill="url(#cy)" points="513,-5.5 558,-5.5 558,-10 567,0 558,10 558,5.5 513,5.5"/>
<polygon fill="url(#ma)" points="569,-5.5 578,-5.5 578,-10 586,0 578,10 578,5.5 569,5.5"/>
<polygon fill="url(#sky)" points="591,-5.5 604,-5.5 604,-10 613,0 604,10 604,5.5 591,5.5"/>
<polygon fill="url(#pk3)" points="614,-5.5 686,-5.5 686,-10 695,0 686,10 686,5.5 614,5.5"/>
<polygon fill="url(#pA)" points="704,-5.5 795,-5.5 795,-10 804,0 795,10 795,5.5 704,5.5"/>
<text class="lm" transform="translate(433,-15) rotate(-53)">MLD56_06360</text>
<text class="lm" transform="translate(498,-15) rotate(-53)">MLD56_06365</text>
<text class="lm" transform="translate(538,-15) rotate(-53)">MLD56_06370</text>
<text class="lm" transform="translate(575,-15) rotate(-53)">MLD56_06375</text>
<text class="lm" transform="translate(605,-15) rotate(-53)">MLD56_06380</text>
<text class="lm" transform="translate(653,-15) rotate(-53)">MLD56_06385</text>
<text class="lm" transform="translate(755,-15) rotate(-53)">MLD56_06390</text>
</g>

<g id="pnd-ZF390" transform="translate(0,1730)">
<text class="sp" x="160" y="5">Paenibacillus peoriae</text><text class="st" x="308" y="5">ZF390</text>
<polygon fill="url(#red)" points="384,-5.5 479,-5.5 479,-10 488,0 479,10 479,5.5 384,5.5"/>
<polygon fill="url(#mg2)" points="499,-5.5 503,-5.5 503,-10 506,0 503,10 503,5.5 499,5.5"/>
<polygon fill="url(#cy)" points="513,-5.5 558,-5.5 558,-10 567,0 558,10 558,5.5 513,5.5"/>
<polygon fill="url(#ma)" points="569,-5.5 578,-5.5 578,-10 586,0 578,10 578,5.5 569,5.5"/>
<polygon fill="url(#sky)" points="591,-5.5 604,-5.5 604,-10 613,0 604,10 604,5.5 591,5.5"/>
<polygon fill="url(#pk3)" points="614,-5.5 686,-5.5 686,-10 695,0 686,10 686,5.5 614,5.5"/>
<polygon fill="url(#pA)" points="704,-5.5 795,-5.5 795,-10 804,0 795,10 795,5.5 704,5.5"/>
<text class="lm" transform="translate(418,-15) rotate(-53)">IAQ67_05905</text>
<text class="lm" transform="translate(490,-15) rotate(-53)">IAQ67_05910</text>
<text class="lm" transform="translate(532,-15) rotate(-53)">IAQ67_05915</text>
<text class="lm" transform="translate(567,-15) rotate(-53)">IAQ67_05920</text>
<text class="lm" transform="translate(600,-15) rotate(-53)">IAQ67_05925</text>
<text class="lm" transform="translate(657,-15) rotate(-53)">IAQ67_05930</text>
<text class="lm" transform="translate(748,-15) rotate(-53)">IAQ67_05935</text>
</g>

<g id="pnd-HS311" transform="translate(0,1843)">
<text class="sp" x="160" y="5">Paenibacillus peoriae</text><text class="st" x="309" y="5">HS311</text>
<polygon fill="url(#red)" points="384,-5.5 479,-5.5 479,-10 488,0 479,10 479,5.5 384,5.5"/>
<polygon fill="url(#mg2)" points="499,-5.5 503,-5.5 503,-10 506,0 503,10 503,5.5 499,5.5"/>
<polygon fill="url(#cy)" points="513,-5.5 558,-5.5 558,-10 567,0 558,10 558,5.5 513,5.5"/>
<polygon fill="url(#ma)" points="569,-5.5 578,-5.5 578,-10 586,0 578,10 578,5.5 569,5.5"/>
<polygon fill="url(#sky)" points="591,-5.5 604,-5.5 604,-10 613,0 604,10 604,5.5 591,5.5"/>
<polygon fill="url(#pk3)" points="614,-5.5 686,-5.5 686,-10 695,0 686,10 686,5.5 614,5.5"/>
<polygon fill="url(#pA)" points="704,-5.5 795,-5.5 795,-10 804,0 795,10 795,5.5 704,5.5"/>
<text class="lm" transform="translate(432,-15) rotate(-53)">ABE82_06110</text>
<text class="lm" transform="translate(530,-15) rotate(-53)">ABE82_06115</text>
<text class="lm" transform="translate(570,-15) rotate(-53)">IAQ67_05920</text>
<text class="lm" transform="translate(605,-15) rotate(-53)">ABE82_06125</text>
<text class="lm" transform="translate(655,-15) rotate(-53)">ABE82_06130</text>
<text class="lm" transform="translate(748,-15) rotate(-53)">ABE82_06135</text>
</g>
</svg>
